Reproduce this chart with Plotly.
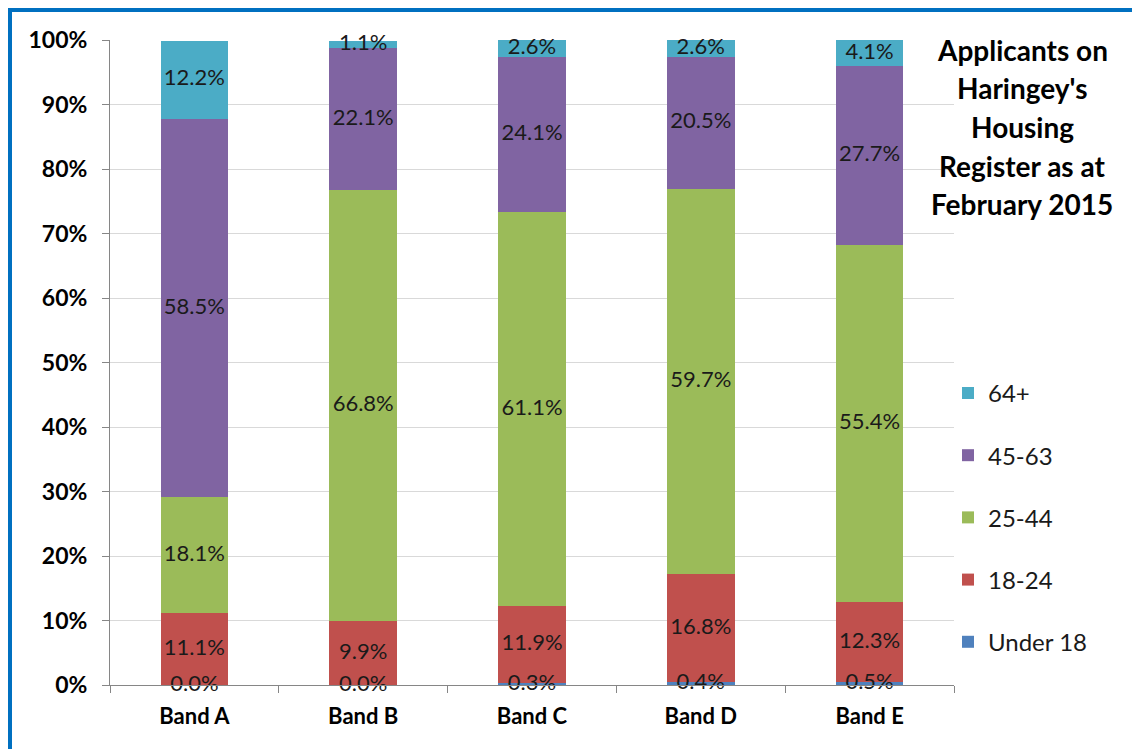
import plotly.graph_objects as go

bands = ["Band A", "Band B", "Band C", "Band D", "Band E"]
under18 = [0.0, 0.0, 0.3, 0.4, 0.5]
age18_24 = [11.1, 9.9, 11.9, 16.8, 12.3]
age25_44 = [18.1, 66.8, 61.1, 59.7, 55.4]
age45_63 = [58.5, 22.1, 24.1, 20.5, 27.7]
age64p = [12.2, 1.1, 2.6, 2.6, 4.1]

series = [
    ("Under 18", under18, "#4F81BD"),
    ("18-24", age18_24, "#C0504D"),
    ("25-44", age25_44, "#9BBB59"),
    ("45-63", age45_63, "#8064A2"),
    ("64+", age64p, "#4BACC6"),
]
title_lines = ["Applicants on", "Haringey's", "Housing", "Register as at", "February 2015"]

# page has an 8px body margin, so the figure is 8px smaller and everything is offset
OFF = 8
W, H = 1140 - OFF, 749 - OFF
L, T = 110 - OFF, 40 - OFF
R = W - (954 - OFF)
B = H - (685 - OFF)
pw, ph = W - L - R, H - T - B

fig = go.Figure()
base = [0.0] * len(bands)
lab_x, lab_y, lab_t = [], [], []
n = len(series)
for i, (name, vals, col) in enumerate(series):
    fig.add_trace(go.Bar(
        x=bands, y=vals, name=name, marker=dict(color=col, line=dict(width=0)),
        width=0.4, legendgroup=name, legendrank=n - i, hoverinfo="skip",
    ))
    for j, v in enumerate(vals):
        lab_x.append(bands[j])
        lab_y.append(base[j] + v / 2)
        lab_t.append(f"{v:.1f}%")
        base[j] += v

fig.add_trace(go.Scatter(
    x=lab_x, y=lab_y, text=lab_t, mode="text", showlegend=False,
    textfont=dict(family="Lato", size=22, color="#1a1a1a"), cliponaxis=False,
    hoverinfo="skip",
))

fig.update_layout(
    barmode="stack", width=W, height=H,
    margin=dict(l=L, r=R, t=T, b=B, pad=0),
    paper_bgcolor="white", plot_bgcolor="white",
    font=dict(family="Lato", color="black"),
    legend=dict(x=(948 - OFF - L) / pw + 0.0, xanchor="left", y=0.487, yanchor="top",
                traceorder="grouped",
                font=dict(family="Lato", size=24, color="#1a1a1a"), tracegroupgap=28,
                bgcolor="rgba(0,0,0,0)"),
    xaxis=dict(showline=True, linecolor="#868686", linewidth=1, ticks="outside", tickson="boundaries",
               ticklen=7, tickcolor="#868686", ticklabelstandoff=12,
               tickfont=dict(family="Lato", size=22, color="black", weight="bold"),
               showgrid=False),
    yaxis=dict(range=[0, 100], dtick=10, ticksuffix="%", showline=True, linecolor="#868686",
               ticks="outside", ticklen=7, tickcolor="#868686", gridcolor="#D9D9D9",
               ticklabelstandoff=10,
               tickfont=dict(family="Lato", size=23, color="black", weight="bold"), zeroline=False),
)

for k, line in enumerate(title_lines):
    ypix = 50 + k * 38.5 - OFF
    fig.add_annotation(x=(1022 - OFF - L) / pw, y=(H - B - ypix) / ph, xref="paper", yref="paper",
                       text=f"<b>{line}</b>", showarrow=False, xanchor="center", yanchor="middle",
                       font=dict(family="Lato", size=28, color="black"))

# blue frame (top and left edges)
fy = 9.5 - OFF
fx = 9.5 - OFF
fig.add_shape(type="line", xref="paper", yref="paper", x0=(fx - L) / pw, x1=(W + 5 - L) / pw,
              y0=(H - B - fy) / ph, y1=(H - B - fy) / ph, line=dict(color="#0070C0", width=5))
fig.add_shape(type="line", xref="paper", yref="paper", x0=(fx - L) / pw, x1=(fx - L) / pw,
              y0=(H - B - fy + 2.5) / ph, y1=(H - B - H - 5) / ph, line=dict(color="#0070C0", width=5))

fig.write_html("out.html")
